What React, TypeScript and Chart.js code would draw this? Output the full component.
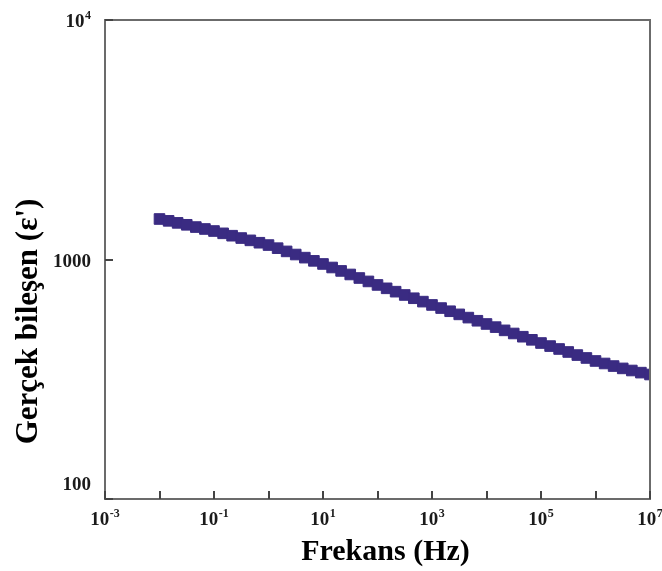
import React, { useEffect, useRef } from "react";
import { Chart, registerables } from "chart.js";

Chart.register(...registerables);

// Measured frequencies (Hz), 6 points per decade
const frequencies: number[] = [
  1e-2, 1.47e-2, 2.15e-2, 3.16e-2, 4.64e-2, 6.81e-2,
  1e-1, 1.47e-1, 2.15e-1, 3.16e-1, 4.64e-1, 6.81e-1,
  1e0, 1.47e0, 2.15e0, 3.16e0, 4.64e0, 6.81e0,
  1e1, 1.47e1, 2.15e1, 3.16e1, 4.64e1, 6.81e1,
  1e2, 1.47e2, 2.15e2, 3.16e2, 4.64e2, 6.81e2,
  1e3, 1.47e3, 2.15e3, 3.16e3, 4.64e3, 6.81e3,
  1e4, 1.47e4, 2.15e4, 3.16e4, 4.64e4, 6.81e4,
  1e5, 1.47e5, 2.15e5, 3.16e5, 4.64e5, 6.81e5,
  1e6, 1.47e6, 2.15e6, 3.16e6, 4.64e6, 6.81e6,
  1e7,
];

// Real part of permittivity (ε')
const epsReal: number[] = [
  1476, 1450, 1422, 1396, 1366, 1341,
  1315, 1286, 1257, 1229, 1202, 1175,
  1149, 1115, 1081, 1049, 1018, 987,
  958, 926, 896, 866, 837, 810,
  783, 758, 734, 711, 689, 667,
  646, 627, 608, 590, 572, 555,
  538, 522, 506, 491, 476, 462,
  448, 435, 423, 411, 399, 388,
  377, 368, 359, 351, 344, 337,
  331,
];

const xMajorTicks: number[] = [1e-3, 1e-1, 1e1, 1e3, 1e5, 1e7];
const xMajorExponents: string[] = ["-3", "-1", "1", "3", "5", "7"];
const xMinorTicks: number[] = [1e-2, 1e0, 1e2, 1e4, 1e6];
const yTicks: number[] = [100, 1000, 10000];
const yTickLabels: { base: string; exp: string }[] = [
  { base: "100", exp: "" },
  { base: "1000", exp: "" },
  { base: "10", exp: "4" },
];

const xTitle = "Frekans (Hz)";
const yTitle = "Gerçek bileşen (ε')";

const SERIF = '"Liberation Serif", "Times New Roman", serif';

const axesPlugin = {
  id: "customAxes",
  afterDraw(chart: any) {
    const { ctx, chartArea: a, scales } = chart;
    const xs = scales.x;
    const ys = scales.y;
    ctx.save();

    // frame
    ctx.strokeStyle = "#6b6b6b";
    ctx.lineWidth = 2;
    ctx.strokeRect(a.left, a.top, a.right - a.left, a.bottom - a.top);

    // x ticks (inward)
    ctx.strokeStyle = "#444";
    ctx.lineWidth = 2;
    [...xMajorTicks, ...xMinorTicks].forEach((v) => {
      const px = Math.round(xs.getPixelForValue(v));
      ctx.beginPath();
      ctx.moveTo(px, a.bottom);
      ctx.lineTo(px, a.bottom - 8);
      ctx.stroke();
    });
    // y ticks (inward)
    yTicks.forEach((v) => {
      const py = Math.round(ys.getPixelForValue(v));
      ctx.beginPath();
      ctx.moveTo(a.left, py);
      ctx.lineTo(a.left + 8, py);
      ctx.stroke();
    });

    const mainFont = `bold 19px ${SERIF}`;
    const expFont = `bold 12px ${SERIF}`;
    ctx.fillStyle = "#1a1a1a";
    ctx.textBaseline = "alphabetic";
    ctx.textAlign = "left";

    const drawLabel = (base: string, exp: string, xLeft: number, baseline: number) => {
      ctx.font = mainFont;
      ctx.fillText(base, xLeft, baseline);
      const bw = ctx.measureText(base).width;
      if (exp) {
        ctx.font = expFont;
        ctx.fillText(exp, xLeft + bw + 0.5, baseline - 8);
      }
    };
    const labelWidth = (base: string, exp: string) => {
      ctx.font = mainFont;
      let w = ctx.measureText(base).width;
      if (exp) {
        ctx.font = expFont;
        w += ctx.measureText(exp).width + 0.5;
      }
      return w;
    };

    // x labels
    xMajorTicks.forEach((v, i) => {
      const px = xs.getPixelForValue(v);
      const w = labelWidth("10", xMajorExponents[i]);
      drawLabel("10", xMajorExponents[i], px - w / 2, a.bottom + 26);
    });

    // y labels
    yTicks.forEach((v, i) => {
      const py = ys.getPixelForValue(v);
      const { base, exp } = yTickLabels[i];
      const w = labelWidth(base, exp);
      const shift = i === 0 ? -16 : 0;
      drawLabel(base, exp, a.left - 14 - w, py + 7 + shift);
    });

    // axis titles
    ctx.fillStyle = "#000";
    ctx.font = `bold 30px ${SERIF}`;
    ctx.textAlign = "center";
    ctx.textBaseline = "alphabetic";
    ctx.fillText(xTitle, (a.left + a.right) / 2 + 8, a.bottom + 61);

    ctx.save();
    ctx.translate(29, (a.top + a.bottom) / 2 + 62);
    ctx.rotate(-Math.PI / 2);
    ctx.font = `bold 31px ${SERIF}`;
    ctx.textBaseline = "middle";
    ctx.fillText(yTitle, 0, 0);
    ctx.restore();

    ctx.restore();
  },
};

export default function App() {
  const canvasRef = useRef<HTMLCanvasElement | null>(null);

  useEffect(() => {
    if (!canvasRef.current) return;
    const points = frequencies.map((f, i) => ({ x: f, y: epsReal[i] }));
    const chart = new Chart(canvasRef.current, {
      type: "scatter",
      data: {
        datasets: [
          {
            data: points,
            pointStyle: "rect",
            pointRadius: 7.5,
            pointHoverRadius: 7.5,
            backgroundColor: "#3a2b82",
            borderColor: "#3a2b82",
            borderWidth: 1,
            showLine: false,
            clip: 0,
          } as any,
        ],
      },
      options: {
        animation: false,
        responsive: true,
        maintainAspectRatio: false,
        layout: { padding: { left: 105, top: 20, right: 12, bottom: 72 } },
        scales: {
          x: { type: "logarithmic", min: 1e-3, max: 1e7, display: false },
          y: { type: "logarithmic", min: 100, max: 10000, display: false },
        },
        plugins: {
          legend: { display: false },
          tooltip: { enabled: false },
        },
      },
      plugins: [axesPlugin],
    });
    return () => chart.destroy();
  }, []);

  return (
    <div style={{ position: "absolute", left: 0, top: 0, width: 662, height: 571, background: "#fff" }}>
      <canvas ref={canvasRef} />
    </div>
  );
}
